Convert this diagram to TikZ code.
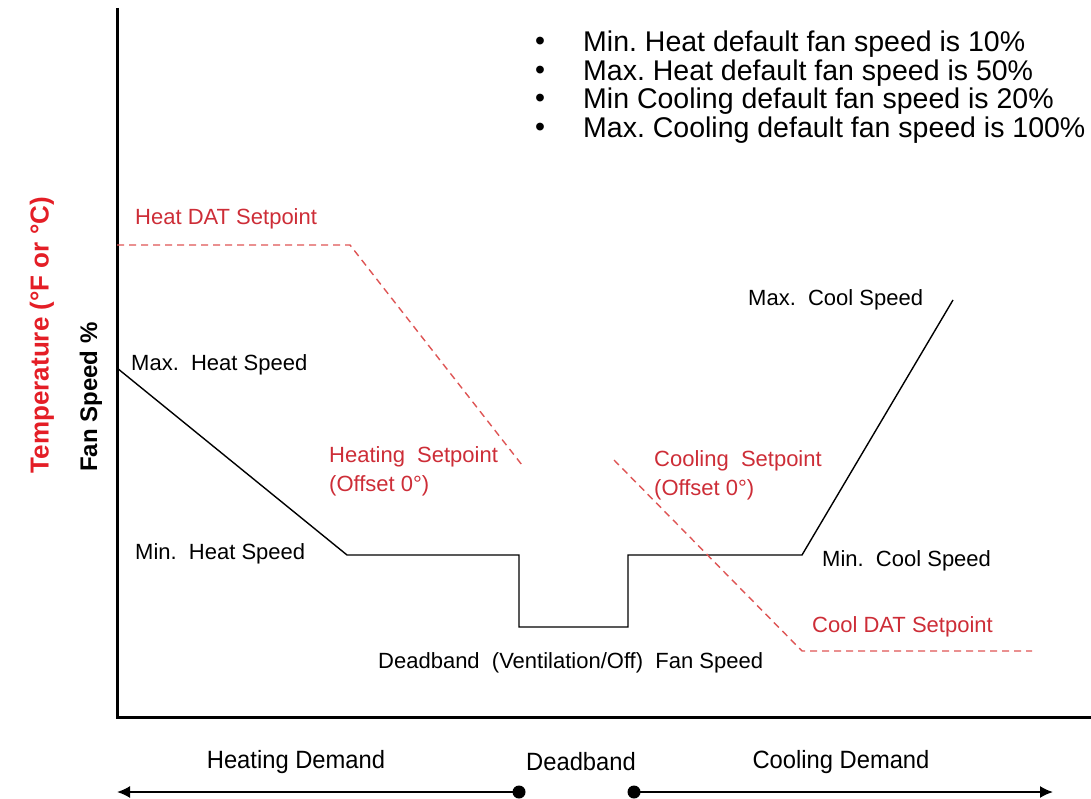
\documentclass[tikz,border=0pt]{standalone}
\usepackage{fontspec}
\setmainfont{Liberation Sans}
\usetikzlibrary{arrows.meta}
\definecolor{redtxt}{RGB}{205,45,55}
\definecolor{reddash}{RGB}{222,85,85}
\definecolor{redaxis}{RGB}{228,30,38}
\frenchspacing
\begin{document}
\begin{tikzpicture}[x=1pt,y=-1pt,
  lbl/.style={font=\fontsize{22}{29}\selectfont, inner sep=0pt, anchor=west, align=left},
  rlbl/.style={lbl, text=redtxt},
  bottomlbl/.style={font=\fontsize{25}{29}\selectfont, inner sep=0pt},
  bullettxt/.style={font=\fontsize{28.5}{29}\selectfont, inner sep=0pt, anchor=west},
  axisline/.style={line width=3pt},
  fanline/.style={line width=1.4pt},
  dashline/.style={line width=1.4pt, reddash, dash pattern=on 7pt off 5pt},
  demand/.style={line width=1.8pt}]
\useasboundingbox (0,0) rectangle (1091,799);
% axes
\coordinate (ytop) at (117,8);
\coordinate (origin) at (117,717);
\coordinate (xend) at (1091,717);
\draw[axisline] (ytop) -- (origin) -- (xend);
% axis titles
\node[rotate=90, text=redaxis, font=\bfseries\fontsize{26}{30}\selectfont, inner sep=0pt] (templbl) at (42,335) {Temperature (°F or °C)};
\node[rotate=90, font=\bfseries\fontsize{24}{30}\selectfont, inner sep=0pt] (fanlbl) at (91,397) {Fan Speed \%};
% fan speed curve
\coordinate (maxh) at (117,368);
\coordinate (minh) at (347,555);
\coordinate (db1) at (519,555);
\coordinate (db2) at (519,627);
\coordinate (db3) at (628,627);
\coordinate (db4) at (628,555);
\coordinate (minc) at (802,555);
\coordinate (maxc) at (953,300);
\draw[fanline] (maxh) -- (minh) -- (db1) -- (db2) -- (db3) -- (db4) -- (minc) -- (maxc);
% setpoint dashed lines
\coordinate (hd1) at (117,245);
\coordinate (hd2) at (350,245);
\coordinate (hd3) at (522,465);
\draw[dashline] (hd1) -- (hd2) -- (hd3);
\coordinate (cd1) at (614,460);
\coordinate (cd2) at (802,651);
\coordinate (cd3) at (1032,651);
\draw[dashline] (cd1) -- (cd2) -- (cd3);
% labels
\node[rlbl] (heatdat) at (135,219) {Heat DAT Setpoint};
\node[lbl] (maxheat) at (131,365) {Max.\ \ Heat Speed};
\node[lbl] (minheat) at (135,554) {Min.\ \ Heat Speed};
\node[rlbl] (heatsp) at (329,471) {Heating\ \ Setpoint\\(Offset 0°)};
\node[rlbl] (coolsp) at (654,475) {Cooling\ \ Setpoint\\(Offset 0°)};
\node[lbl] (maxcool) at (748,300) {Max.\ \ Cool Speed};
\node[lbl] (mincool) at (822,561) {Min.\ \ Cool Speed};
\node[rlbl] (cooldat) at (812,627) {Cool DAT Setpoint};
\node[lbl] (dbfan) at (378,663) {Deadband\ \ (Ventilation/Off)\ \ Fan Speed};
% bullets
\foreach \yy/\tx [count=\i] in {44/{Min. Heat default fan speed is 10\%},
                     73/{Max. Heat default fan speed is 50\%},
                     101/{Min Cooling default fan speed is 20\%},
                     130/{Max. Cooling default fan speed is 100\%}} {
  \node[bullettxt] (bul\i) at (535,\yy) {•};
  \node[bullettxt] (btx\i) at (583,\yy) {\tx};
}
% demand axis
\node[bottomlbl] (heatdem) at (296,762) {\scalebox{0.95}[1]{Heating Demand}};
\node[bottomlbl] (deadb) at (581,762) {\scalebox{0.95}[1]{Deadband}};
\node[bottomlbl] (cooldem) at (841,762) {\scalebox{0.95}[1]{Cooling Demand}};
\coordinate (hl) at (117,792);
\coordinate (hr) at (519,792);
\coordinate (cl) at (634,792);
\coordinate (cr) at (1053,792);
\draw[demand, {Latex[length=13pt,width=12pt]}-] (hl) -- (hr);
\draw[demand, -{Latex[length=13pt,width=12pt]}] (cl) -- (cr);
\fill (hr) circle (6.5);
\fill (cl) circle (6.5);
\end{tikzpicture}
\end{document}
